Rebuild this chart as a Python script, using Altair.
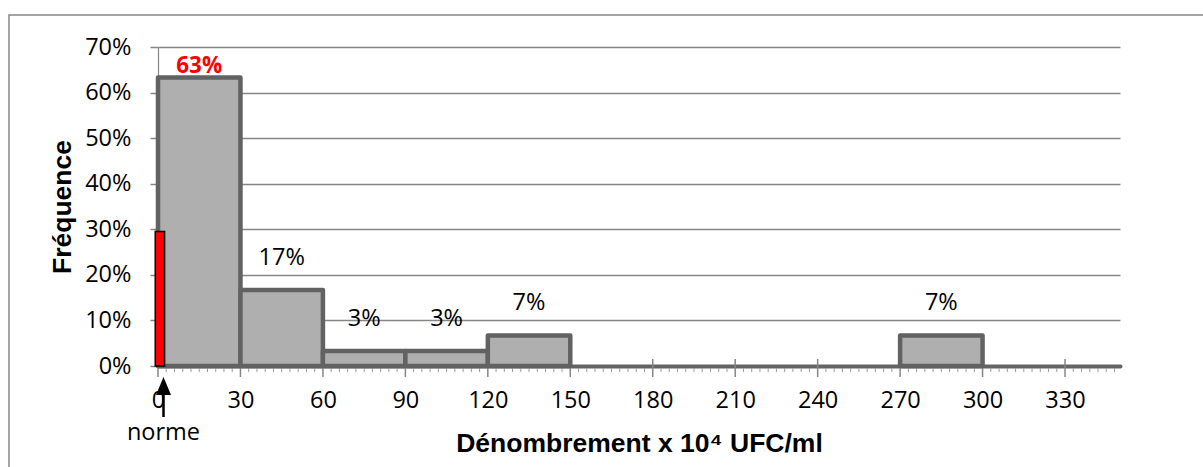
import altair as alt
import pandas as pd

# Histogram classes (x 10^4 UFC/ml) and their relative frequencies
bin_start = [0, 30, 60, 90, 120, 270]
bin_end = [30, 60, 90, 120, 150, 300]
frequency = [0.633, 0.167, 0.033, 0.033, 0.067, 0.067]

# Reference threshold ("norme") bar and its arrow position
norme_start = [-1.0]
norme_end = [2.4]
norme_freq = [0.295]
norme_pos = [2]

x_ticks = list(range(0, 331, 30))
minor_ticks = [v for v in range(0, 349, 3) if v % 30]
y_ticks = [0, 0.1, 0.2, 0.3, 0.4, 0.5, 0.6, 0.7]

W, H = 962, 319
GRID = "#868686"
DARK = "#646464"
LABEL_FONT = "Open Sans"
LABEL_SIZE = 23.5
TITLE_FONT = "Liberation Sans"
TITLE_SIZE = 26.5

bins = pd.DataFrame({"start": bin_start, "end": bin_end, "freq": frequency})
bins["mid"] = (bins["start"] + bins["end"]) / 2
norme = pd.DataFrame({"start": norme_start, "end": norme_end,
                      "freq": norme_freq, "pos": norme_pos})
major = pd.DataFrame({"v": x_ticks})
minor = pd.DataFrame({"v": minor_ticks})

xscale = alt.Scale(domain=[0, 350], nice=False, zero=False)
yscale = alt.Scale(domain=[0, 0.7], nice=False)

x_axis = alt.Axis(
    values=x_ticks, format="d", grid=False, ticks=False,
    domainColor=DARK, domainWidth=4, domainCap="round",
    labelFont=LABEL_FONT, labelFontSize=LABEL_SIZE, labelColor="black",
    labelPadding=22, labelFlush=False, labelOverlap=False,
    title="Dénombrement x 10⁴ UFC/ml", titleFont=TITLE_FONT,
    titleFontSize=TITLE_SIZE, titleFontWeight="bold", titleColor="black",
    titleY=77, titleBaseline="middle",
)
y_axis = alt.Axis(
    values=y_ticks, format=".0%", grid=True, gridColor=GRID, gridWidth=1.5,
    tickColor=GRID, tickSize=8, tickWidth=1.5,
    domainColor=GRID, domainWidth=1.2,
    labelFont=LABEL_FONT, labelFontSize=LABEL_SIZE, labelColor="black",
    labelPadding=19,
    title="Fréquence", titleFont=TITLE_FONT, titleFontSize=TITLE_SIZE,
    titleFontWeight="bold", titleColor="black", titleAngle=270,
    titleX=-96, titleY=H / 2, titleBaseline="middle", titleAlign="center",
)


def xq(field):
    return alt.X(field, type="quantitative", scale=xscale, axis=x_axis)


def yq(field):
    return alt.Y(field, type="quantitative", scale=yscale, axis=y_axis)


# Outer chart frame
frame = alt.Chart(pd.DataFrame({"k": [0]})).mark_rect(
    fillOpacity=0, stroke=GRID, strokeWidth=1.5
).encode(
    x=alt.value(-149), x2=alt.value(1150), y=alt.value(-32), y2=alt.value(460)
)

major_ticks = alt.Chart(major).mark_rule(color=GRID, strokeWidth=1.5).encode(
    x=xq("v"), y=alt.value(H - 7), y2=alt.value(H + 11)
)
minor_tick_marks = alt.Chart(minor).mark_rule(color="#9a9a9a", strokeWidth=1).encode(
    x=xq("v"), y=alt.value(H + 2), y2=alt.value(H + 6)
)

bars = alt.Chart(bins).mark_rect(
    fill="#afafaf", stroke="#626262", strokeWidth=4.5, strokeJoin="round"
).encode(
    x=xq("start"), x2="end:Q", y=yq("freq"), y2=alt.datum(0),
)

norme_bar = alt.Chart(norme).mark_rect(
    fill="#ff0000", stroke="black", strokeWidth=1.5
).encode(
    x=xq("start"), x2="end:Q", y=yq("freq"), y2=alt.datum(0),
)

labels = alt.Chart(bins).transform_filter("datum.freq < 0.5").mark_text(
    font=LABEL_FONT, fontSize=LABEL_SIZE, color="black", dy=-32, baseline="middle"
).encode(
    x=xq("mid"), y=yq("freq"), text=alt.Text("freq:Q", format=".0%"),
)
top_label = alt.Chart(bins).transform_filter("datum.freq >= 0.5").mark_text(
    font=LABEL_FONT, fontSize=22.5, fontWeight="bold", color="#ff0000",
    dy=-11.5, baseline="middle"
).encode(
    x=xq("mid"), y=yq("freq"), text=alt.Text("freq:Q", format=".0%"),
)

arrow_shaft = alt.Chart(norme).mark_rule(color="black", strokeWidth=2.5).encode(
    x=xq("pos"), y=alt.value(348), y2=alt.value(370)
)
arrow_head = alt.Chart(norme).mark_point(
    shape="M -1 1.2 L 0 -1.2 L 1 1.2 Z", filled=True, fill="black",
    opacity=1, size=225, strokeWidth=0
).encode(
    x=xq("pos"), y=alt.value(339)
)
norme_text = alt.Chart(norme).mark_text(
    text="norme", font=LABEL_FONT, fontSize=LABEL_SIZE, color="black",
    baseline="middle"
).encode(
    x=xq("pos"), y=alt.value(386)
)

chart = alt.layer(
    frame, major_ticks, minor_tick_marks, bars, norme_bar,
    labels, top_label, arrow_shaft, arrow_head, norme_text
).properties(
    width=W, height=H,
    padding={"left": 158, "top": 47, "right": 83, "bottom": 101},
    autosize=alt.AutoSizeParams(type="none"),
    background="white",
).configure_view(strokeWidth=0)

chart.save("out.html", embed_options={"renderer": "svg", "actions": False})
